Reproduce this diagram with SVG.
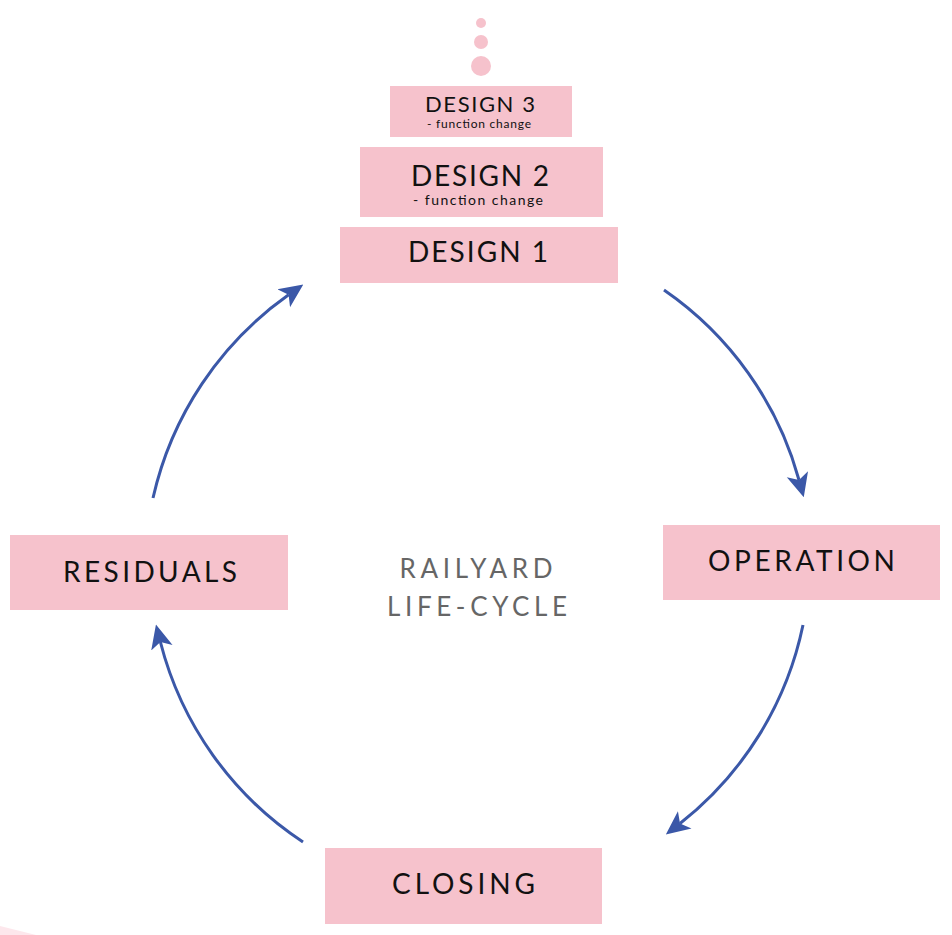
<svg xmlns="http://www.w3.org/2000/svg" width="952" height="935" viewBox="0 0 952 935">
<style>
.box{fill:#f6c2cc}
.lbl{font-family:Lato,"Noto Sans",sans-serif;fill:#111;text-anchor:middle}
.big{font-size:28px}
.sub{font-size:14px}
.center{font-family:Lato,"Noto Sans",sans-serif;fill:#666;font-size:26px;text-anchor:middle}
.arc{fill:none;stroke:#3b58a8;stroke-width:3}
.dot{fill:#f6c2cc}
</style>
<defs>
<marker id="ah" viewBox="0 0 24 24" markerWidth="24" markerHeight="24" markerUnits="userSpaceOnUse" refX="6" refY="12" orient="auto">
<path d="M0,1 L24,12 L0,23 L6,12 z" fill="#3b58a8"/>
</marker>
</defs>
<rect width="952" height="935" fill="#fff"/>
<polygon points="0,926 36,935 0,935" fill="#fde7ec"/>
<g id="dots">
<circle class="dot" cx="481" cy="23" r="5"/>
<circle class="dot" cx="481" cy="42" r="7"/>
<circle class="dot" cx="481" cy="66" r="10"/>
</g>
<g id="design3">
<rect class="box" x="390" y="86" width="182" height="51"/>
<text class="lbl" x="480" y="112" font-size="22" textLength="110">DESIGN 3</text>
<text class="lbl" x="479" y="128" font-size="12" textLength="104">- function change</text>
</g>
<g id="design2">
<rect class="box" x="360" y="147" width="243" height="70"/>
<text class="lbl big" x="480" y="186" textLength="138">DESIGN 2</text>
<text class="lbl sub" x="478" y="205" textLength="130">- function change</text>
</g>
<g id="design1">
<rect class="box" x="340" y="227" width="278" height="56"/>
<text class="lbl big" x="478" y="262" textLength="140">DESIGN 1</text>
</g>
<g id="operation">
<rect class="box" x="663" y="525" width="277" height="75"/>
<text class="lbl big" x="801.5" y="571" textLength="187">OPERATION</text>
</g>
<g id="closing">
<rect class="box" x="325" y="848" width="277" height="76"/>
<text class="lbl big" x="463.5" y="894" textLength="143">CLOSING</text>
</g>
<g id="residuals">
<rect class="box" x="10" y="535" width="278" height="75"/>
<text class="lbl big" x="150" y="582" textLength="174">RESIDUALS</text>
</g>
<g id="title">
<text class="center" x="476" y="578" textLength="153">RAILYARD</text>
<text class="center" x="477" y="616" textLength="180">LIFE-CYCLE</text>
</g>
<g id="connectors">
<path class="arc" d="M664,290 A340,340 0 0 1 799,480" marker-end="url(#ah)"/>
<path class="arc" d="M803,625 A340,340 0 0 1 680,823.5" marker-end="url(#ah)"/>
<path class="arc" d="M303,842 A340,340 0 0 1 160.4,642" marker-end="url(#ah)"/>
<path class="arc" d="M153,498 A340,340 0 0 1 288.6,294.8" marker-end="url(#ah)"/>
</g>
</svg>
